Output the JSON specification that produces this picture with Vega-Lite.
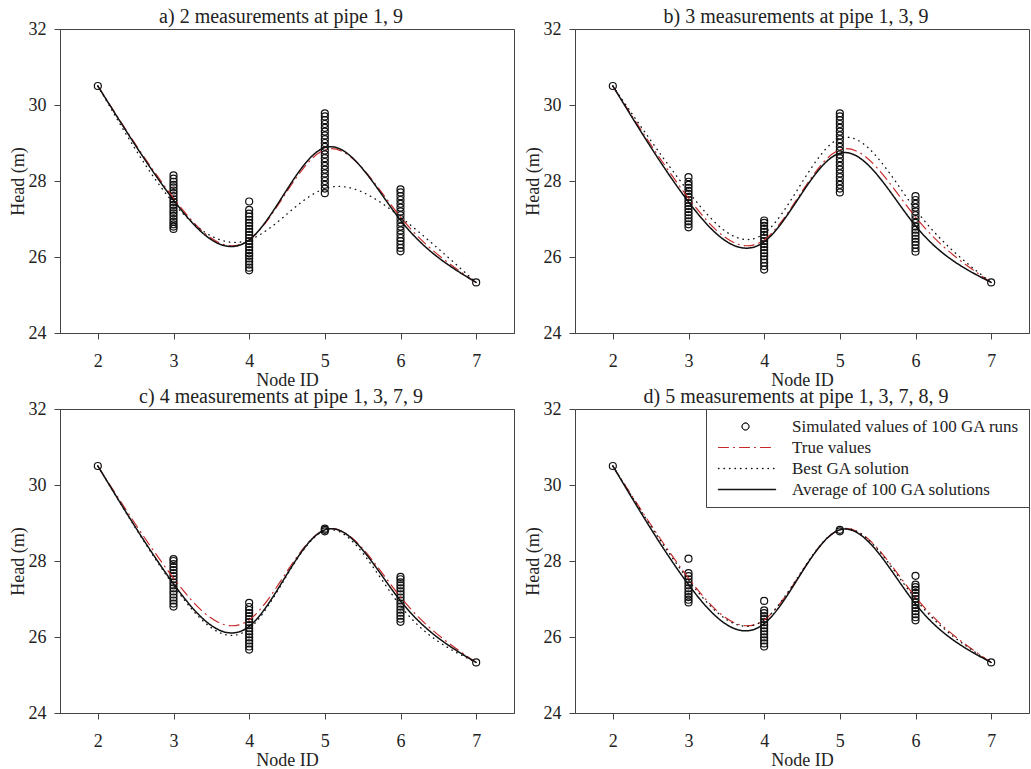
{
  "$schema": "https://vega.github.io/schema/vega-lite/v6.json",
  "padding": {"left": 8, "top": 6, "right": 0, "bottom": 0},
  "background": "white",
  "config": {
    "font": "Liberation Serif",
    "view": {"stroke": "#444", "strokeWidth": 1},
    "axis": {"grid": false, "labelFontSize": 18, "titleFontSize": 18, "titleFontWeight": "normal", "labelColor": "#222", "titleColor": "#222", "tickSize": 6, "tickColor": "#444", "domainColor": "#444"},
    "axisX": {"labelPadding": 13, "titlePadding": 1},
    "axisY": {"labelPadding": 8, "titlePadding": 1},
    "title": {"fontSize": 20, "fontWeight": "normal", "color": "#222", "offset": -7, "dx": -6},
    "legend": {"orient": "top-right", "offset": 0, "padding": 9, "strokeColor": "#444", "fillColor": "white", "labelFontSize": 17, "labelColor": "#222", "labelOffset": 60, "rowPadding": 3, "symbolSize": 100, "symbolStrokeWidth": 1.5, "labelLimit": 400, "cornerRadius": 0}
  },
  "datasets": {
    "pts": [
      {"p":"a","n":2,"h":30.5},{"p":"a","n":7,"h":25.33},
      {"p":"a","n":3,"h":26.74},{"p":"a","n":3,"h":26.8},{"p":"a","n":3,"h":26.86},{"p":"a","n":3,"h":26.93},{"p":"a","n":3,"h":27.0},{"p":"a","n":3,"h":27.08},{"p":"a","n":3,"h":27.15},{"p":"a","n":3,"h":27.22},{"p":"a","n":3,"h":27.3},{"p":"a","n":3,"h":27.37},{"p":"a","n":3,"h":27.45},{"p":"a","n":3,"h":27.52},{"p":"a","n":3,"h":27.6},{"p":"a","n":3,"h":27.68},{"p":"a","n":3,"h":27.75},{"p":"a","n":3,"h":27.83},{"p":"a","n":3,"h":27.9},{"p":"a","n":3,"h":27.98},{"p":"a","n":3,"h":28.06},{"p":"a","n":3,"h":28.15},
      {"p":"a","n":4,"h":25.65},{"p":"a","n":4,"h":25.72},{"p":"a","n":4,"h":25.8},{"p":"a","n":4,"h":25.88},{"p":"a","n":4,"h":25.96},{"p":"a","n":4,"h":26.03},{"p":"a","n":4,"h":26.1},{"p":"a","n":4,"h":26.18},{"p":"a","n":4,"h":26.26},{"p":"a","n":4,"h":26.34},{"p":"a","n":4,"h":26.42},{"p":"a","n":4,"h":26.5},{"p":"a","n":4,"h":26.58},{"p":"a","n":4,"h":26.66},{"p":"a","n":4,"h":26.74},{"p":"a","n":4,"h":26.82},{"p":"a","n":4,"h":26.9},{"p":"a","n":4,"h":26.98},{"p":"a","n":4,"h":27.06},{"p":"a","n":4,"h":27.14},{"p":"a","n":4,"h":27.24},{"p":"a","n":4,"h":27.46},
      {"p":"a","n":5,"h":27.68},{"p":"a","n":5,"h":27.8},{"p":"a","n":5,"h":27.9},{"p":"a","n":5,"h":28.0},{"p":"a","n":5,"h":28.1},{"p":"a","n":5,"h":28.2},{"p":"a","n":5,"h":28.3},{"p":"a","n":5,"h":28.4},{"p":"a","n":5,"h":28.5},{"p":"a","n":5,"h":28.6},{"p":"a","n":5,"h":28.7},{"p":"a","n":5,"h":28.8},{"p":"a","n":5,"h":28.9},{"p":"a","n":5,"h":29.0},{"p":"a","n":5,"h":29.1},{"p":"a","n":5,"h":29.2},{"p":"a","n":5,"h":29.3},{"p":"a","n":5,"h":29.4},{"p":"a","n":5,"h":29.5},{"p":"a","n":5,"h":29.6},{"p":"a","n":5,"h":29.7},{"p":"a","n":5,"h":29.78},
      {"p":"a","n":6,"h":26.15},{"p":"a","n":6,"h":26.24},{"p":"a","n":6,"h":26.33},{"p":"a","n":6,"h":26.42},{"p":"a","n":6,"h":26.5},{"p":"a","n":6,"h":26.6},{"p":"a","n":6,"h":26.7},{"p":"a","n":6,"h":26.8},{"p":"a","n":6,"h":26.9},{"p":"a","n":6,"h":27.0},{"p":"a","n":6,"h":27.1},{"p":"a","n":6,"h":27.2},{"p":"a","n":6,"h":27.3},{"p":"a","n":6,"h":27.4},{"p":"a","n":6,"h":27.5},{"p":"a","n":6,"h":27.6},{"p":"a","n":6,"h":27.7},{"p":"a","n":6,"h":27.78},
      {"p":"b","n":2,"h":30.5},{"p":"b","n":7,"h":25.33},
      {"p":"b","n":3,"h":26.78},{"p":"b","n":3,"h":26.86},{"p":"b","n":3,"h":26.94},{"p":"b","n":3,"h":27.02},{"p":"b","n":3,"h":27.1},{"p":"b","n":3,"h":27.18},{"p":"b","n":3,"h":27.26},{"p":"b","n":3,"h":27.34},{"p":"b","n":3,"h":27.42},{"p":"b","n":3,"h":27.5},{"p":"b","n":3,"h":27.58},{"p":"b","n":3,"h":27.66},{"p":"b","n":3,"h":27.74},{"p":"b","n":3,"h":27.82},{"p":"b","n":3,"h":27.9},{"p":"b","n":3,"h":27.98},{"p":"b","n":3,"h":28.1},
      {"p":"b","n":4,"h":25.67},{"p":"b","n":4,"h":25.76},{"p":"b","n":4,"h":25.85},{"p":"b","n":4,"h":25.94},{"p":"b","n":4,"h":26.02},{"p":"b","n":4,"h":26.1},{"p":"b","n":4,"h":26.18},{"p":"b","n":4,"h":26.26},{"p":"b","n":4,"h":26.34},{"p":"b","n":4,"h":26.42},{"p":"b","n":4,"h":26.5},{"p":"b","n":4,"h":26.58},{"p":"b","n":4,"h":26.66},{"p":"b","n":4,"h":26.74},{"p":"b","n":4,"h":26.82},{"p":"b","n":4,"h":26.9},{"p":"b","n":4,"h":26.96},
      {"p":"b","n":5,"h":27.7},{"p":"b","n":5,"h":27.8},{"p":"b","n":5,"h":27.9},{"p":"b","n":5,"h":28.0},{"p":"b","n":5,"h":28.1},{"p":"b","n":5,"h":28.2},{"p":"b","n":5,"h":28.3},{"p":"b","n":5,"h":28.4},{"p":"b","n":5,"h":28.5},{"p":"b","n":5,"h":28.6},{"p":"b","n":5,"h":28.7},{"p":"b","n":5,"h":28.8},{"p":"b","n":5,"h":28.9},{"p":"b","n":5,"h":29.0},{"p":"b","n":5,"h":29.1},{"p":"b","n":5,"h":29.2},{"p":"b","n":5,"h":29.3},{"p":"b","n":5,"h":29.4},{"p":"b","n":5,"h":29.5},{"p":"b","n":5,"h":29.6},{"p":"b","n":5,"h":29.7},{"p":"b","n":5,"h":29.78},
      {"p":"b","n":6,"h":26.14},{"p":"b","n":6,"h":26.23},{"p":"b","n":6,"h":26.32},{"p":"b","n":6,"h":26.4},{"p":"b","n":6,"h":26.48},{"p":"b","n":6,"h":26.56},{"p":"b","n":6,"h":26.64},{"p":"b","n":6,"h":26.72},{"p":"b","n":6,"h":26.8},{"p":"b","n":6,"h":26.9},{"p":"b","n":6,"h":27.0},{"p":"b","n":6,"h":27.1},{"p":"b","n":6,"h":27.2},{"p":"b","n":6,"h":27.3},{"p":"b","n":6,"h":27.4},{"p":"b","n":6,"h":27.5},{"p":"b","n":6,"h":27.6},
      {"p":"c","n":2,"h":30.5},{"p":"c","n":7,"h":25.33},
      {"p":"c","n":3,"h":26.8},{"p":"c","n":3,"h":26.88},{"p":"c","n":3,"h":26.96},{"p":"c","n":3,"h":27.04},{"p":"c","n":3,"h":27.12},{"p":"c","n":3,"h":27.2},{"p":"c","n":3,"h":27.28},{"p":"c","n":3,"h":27.36},{"p":"c","n":3,"h":27.44},{"p":"c","n":3,"h":27.52},{"p":"c","n":3,"h":27.6},{"p":"c","n":3,"h":27.68},{"p":"c","n":3,"h":27.76},{"p":"c","n":3,"h":27.84},{"p":"c","n":3,"h":27.92},{"p":"c","n":3,"h":28.0},{"p":"c","n":3,"h":28.05},
      {"p":"c","n":4,"h":25.67},{"p":"c","n":4,"h":25.75},{"p":"c","n":4,"h":25.83},{"p":"c","n":4,"h":25.91},{"p":"c","n":4,"h":25.99},{"p":"c","n":4,"h":26.07},{"p":"c","n":4,"h":26.15},{"p":"c","n":4,"h":26.23},{"p":"c","n":4,"h":26.31},{"p":"c","n":4,"h":26.39},{"p":"c","n":4,"h":26.47},{"p":"c","n":4,"h":26.55},{"p":"c","n":4,"h":26.63},{"p":"c","n":4,"h":26.71},{"p":"c","n":4,"h":26.79},{"p":"c","n":4,"h":26.9},
      {"p":"c","n":5,"h":28.78},{"p":"c","n":5,"h":28.82},{"p":"c","n":5,"h":28.85},
      {"p":"c","n":6,"h":26.4},{"p":"c","n":6,"h":26.48},{"p":"c","n":6,"h":26.56},{"p":"c","n":6,"h":26.64},{"p":"c","n":6,"h":26.72},{"p":"c","n":6,"h":26.8},{"p":"c","n":6,"h":26.88},{"p":"c","n":6,"h":26.96},{"p":"c","n":6,"h":27.04},{"p":"c","n":6,"h":27.12},{"p":"c","n":6,"h":27.2},{"p":"c","n":6,"h":27.28},{"p":"c","n":6,"h":27.36},{"p":"c","n":6,"h":27.44},{"p":"c","n":6,"h":27.52},{"p":"c","n":6,"h":27.58},
      {"p":"d","n":2,"h":30.5},{"p":"d","n":7,"h":25.33},
      {"p":"d","n":3,"h":26.91},{"p":"d","n":3,"h":26.98},{"p":"d","n":3,"h":27.05},{"p":"d","n":3,"h":27.12},{"p":"d","n":3,"h":27.2},{"p":"d","n":3,"h":27.28},{"p":"d","n":3,"h":27.36},{"p":"d","n":3,"h":27.44},{"p":"d","n":3,"h":27.52},{"p":"d","n":3,"h":27.6},{"p":"d","n":3,"h":27.68},{"p":"d","n":3,"h":28.06},
      {"p":"d","n":4,"h":25.75},{"p":"d","n":4,"h":25.83},{"p":"d","n":4,"h":25.91},{"p":"d","n":4,"h":25.99},{"p":"d","n":4,"h":26.07},{"p":"d","n":4,"h":26.15},{"p":"d","n":4,"h":26.23},{"p":"d","n":4,"h":26.31},{"p":"d","n":4,"h":26.39},{"p":"d","n":4,"h":26.47},{"p":"d","n":4,"h":26.55},{"p":"d","n":4,"h":26.63},{"p":"d","n":4,"h":26.7},{"p":"d","n":4,"h":26.95},
      {"p":"d","n":5,"h":28.78},{"p":"d","n":5,"h":28.82},
      {"p":"d","n":6,"h":26.44},{"p":"d","n":6,"h":26.52},{"p":"d","n":6,"h":26.6},{"p":"d","n":6,"h":26.68},{"p":"d","n":6,"h":26.76},{"p":"d","n":6,"h":26.84},{"p":"d","n":6,"h":26.92},{"p":"d","n":6,"h":27.0},{"p":"d","n":6,"h":27.08},{"p":"d","n":6,"h":27.16},{"p":"d","n":6,"h":27.24},{"p":"d","n":6,"h":27.31},{"p":"d","n":6,"h":27.38},{"p":"d","n":6,"h":27.61}
    ],
    "lines": [
      {"p":"a","s":"True values","n":2,"h":30.5},{"p":"a","s":"True values","n":3,"h":27.55},{"p":"a","s":"True values","n":4,"h":26.45},{"p":"a","s":"True values","n":5,"h":28.82},{"p":"a","s":"True values","n":6,"h":27.05},{"p":"a","s":"True values","n":7,"h":25.33},
      {"p":"a","s":"Best GA solution","n":2,"h":30.5},{"p":"a","s":"Best GA solution","n":3,"h":27.42},{"p":"a","s":"Best GA solution","n":4,"h":26.45},{"p":"a","s":"Best GA solution","n":5,"h":27.8},{"p":"a","s":"Best GA solution","n":6,"h":27.05},{"p":"a","s":"Best GA solution","n":7,"h":25.33},
      {"p":"a","s":"Average of 100 GA solutions","n":2,"h":30.5},{"p":"a","s":"Average of 100 GA solutions","n":3,"h":27.5},{"p":"a","s":"Average of 100 GA solutions","n":4,"h":26.45},{"p":"a","s":"Average of 100 GA solutions","n":5,"h":28.88},{"p":"a","s":"Average of 100 GA solutions","n":6,"h":26.97},{"p":"a","s":"Average of 100 GA solutions","n":7,"h":25.33},
      {"p":"b","s":"True values","n":2,"h":30.5},{"p":"b","s":"True values","n":3,"h":27.55},{"p":"b","s":"True values","n":4,"h":26.45},{"p":"b","s":"True values","n":5,"h":28.82},{"p":"b","s":"True values","n":6,"h":27.05},{"p":"b","s":"True values","n":7,"h":25.33},
      {"p":"b","s":"Best GA solution","n":2,"h":30.5},{"p":"b","s":"Best GA solution","n":3,"h":27.72},{"p":"b","s":"Best GA solution","n":4,"h":26.62},{"p":"b","s":"Best GA solution","n":5,"h":29.12},{"p":"b","s":"Best GA solution","n":6,"h":27.25},{"p":"b","s":"Best GA solution","n":7,"h":25.33},
      {"p":"b","s":"Average of 100 GA solutions","n":2,"h":30.5},{"p":"b","s":"Average of 100 GA solutions","n":3,"h":27.45},{"p":"b","s":"Average of 100 GA solutions","n":4,"h":26.4},{"p":"b","s":"Average of 100 GA solutions","n":5,"h":28.73},{"p":"b","s":"Average of 100 GA solutions","n":6,"h":26.82},{"p":"b","s":"Average of 100 GA solutions","n":7,"h":25.33},
      {"p":"c","s":"True values","n":2,"h":30.5},{"p":"c","s":"True values","n":3,"h":27.55},{"p":"c","s":"True values","n":4,"h":26.45},{"p":"c","s":"True values","n":5,"h":28.82},{"p":"c","s":"True values","n":6,"h":27.05},{"p":"c","s":"True values","n":7,"h":25.33},
      {"p":"c","s":"Best GA solution","n":2,"h":30.5},{"p":"c","s":"Best GA solution","n":3,"h":27.36},{"p":"c","s":"Best GA solution","n":4,"h":26.22},{"p":"c","s":"Best GA solution","n":5,"h":28.8},{"p":"c","s":"Best GA solution","n":6,"h":26.82},{"p":"c","s":"Best GA solution","n":7,"h":25.33},
      {"p":"c","s":"Average of 100 GA solutions","n":2,"h":30.5},{"p":"c","s":"Average of 100 GA solutions","n":3,"h":27.4},{"p":"c","s":"Average of 100 GA solutions","n":4,"h":26.28},{"p":"c","s":"Average of 100 GA solutions","n":5,"h":28.82},{"p":"c","s":"Average of 100 GA solutions","n":6,"h":26.95},{"p":"c","s":"Average of 100 GA solutions","n":7,"h":25.33},
      {"p":"d","s":"True values","n":2,"h":30.5},{"p":"d","s":"True values","n":3,"h":27.55},{"p":"d","s":"True values","n":4,"h":26.45},{"p":"d","s":"True values","n":5,"h":28.82},{"p":"d","s":"True values","n":6,"h":27.05},{"p":"d","s":"True values","n":7,"h":25.33},
      {"p":"d","s":"Best GA solution","n":2,"h":30.5},{"p":"d","s":"Best GA solution","n":3,"h":27.5},{"p":"d","s":"Best GA solution","n":4,"h":26.45},{"p":"d","s":"Best GA solution","n":5,"h":28.83},{"p":"d","s":"Best GA solution","n":6,"h":27.0},{"p":"d","s":"Best GA solution","n":7,"h":25.33},
      {"p":"d","s":"Average of 100 GA solutions","n":2,"h":30.5},{"p":"d","s":"Average of 100 GA solutions","n":3,"h":27.38},{"p":"d","s":"Average of 100 GA solutions","n":4,"h":26.35},{"p":"d","s":"Average of 100 GA solutions","n":5,"h":28.82},{"p":"d","s":"Average of 100 GA solutions","n":6,"h":26.87},{"p":"d","s":"Average of 100 GA solutions","n":7,"h":25.33}
    ]
  },
  "columns": 2,
  "spacing": {"row": 76, "column": 61},
  "bounds": "flush",
  "resolve": {"scale": {"color": "independent", "strokeDash": "independent", "strokeWidth": "independent"}, "legend": {"color": "independent", "strokeDash": "independent", "strokeWidth": "independent"}},
  "concat": [
    {
      "title": "a) 2 measurements at pipe 1, 9",
      "width": 454, "height": 304,
      "encoding": {
        "x": {"field": "n", "type": "quantitative", "title": "Node ID", "scale": {"domain": [1.5, 7.5], "nice": false, "zero": false}, "axis": {"values": [2,3,4,5,6,7], "format": "d"}},
        "y": {"field": "h", "type": "quantitative", "title": "Head (m)", "scale": {"domain": [24, 32], "nice": false, "zero": false}, "axis": {"values": [24,26,28,30,32], "format": "d"}}
      },
      "layer": [
        {"data": {"name": "pts"}, "transform": [{"filter": "datum.p === 'a'"}], "mark": {"type": "point", "shape": "circle", "filled": false, "size": 49, "strokeWidth": 1.2, "color": "#111", "opacity": 1}},
        {"data": {"name": "lines"}, "transform": [{"filter": "datum.p === 'a'"}], "mark": {"type": "line", "interpolate": "natural", "strokeCap": "round"},
          "encoding": {
            "color": {"field": "s", "type": "nominal", "scale": {"domain": ["Simulated values of 100 GA runs", "True values", "Best GA solution", "Average of 100 GA solutions"], "range": ["#111", "#c62828", "#111", "#111"]}, "legend": null},
            "strokeDash": {"field": "s", "type": "nominal", "scale": {"domain": ["Simulated values of 100 GA runs", "True values", "Best GA solution", "Average of 100 GA solutions"], "range": [[1,0], [10,5,1,5], [0.5,5], [1,0]]}, "legend": null},
            "strokeWidth": {"field": "s", "type": "nominal", "scale": {"domain": ["Simulated values of 100 GA runs", "True values", "Best GA solution", "Average of 100 GA solutions"], "range": [1, 1.5, 3, 1.6]}, "legend": null},
            "order": {"field": "n", "type": "quantitative"}
          }}
      ]
    },
    {
      "title": "b) 3 measurements at pipe 1, 3, 9",
      "width": 454, "height": 304,
      "encoding": {
        "x": {"field": "n", "type": "quantitative", "title": "Node ID", "scale": {"domain": [1.5, 7.5], "nice": false, "zero": false}, "axis": {"values": [2,3,4,5,6,7], "format": "d"}},
        "y": {"field": "h", "type": "quantitative", "title": "Head (m)", "scale": {"domain": [24, 32], "nice": false, "zero": false}, "axis": {"values": [24,26,28,30,32], "format": "d"}}
      },
      "layer": [
        {"data": {"name": "pts"}, "transform": [{"filter": "datum.p === 'b'"}], "mark": {"type": "point", "shape": "circle", "filled": false, "size": 49, "strokeWidth": 1.2, "color": "#111", "opacity": 1}},
        {"data": {"name": "lines"}, "transform": [{"filter": "datum.p === 'b'"}], "mark": {"type": "line", "interpolate": "natural", "strokeCap": "round"},
          "encoding": {
            "color": {"field": "s", "type": "nominal", "scale": {"domain": ["Simulated values of 100 GA runs", "True values", "Best GA solution", "Average of 100 GA solutions"], "range": ["#111", "#c62828", "#111", "#111"]}, "legend": null},
            "strokeDash": {"field": "s", "type": "nominal", "scale": {"domain": ["Simulated values of 100 GA runs", "True values", "Best GA solution", "Average of 100 GA solutions"], "range": [[1,0], [10,5,1,5], [0.5,5], [1,0]]}, "legend": null},
            "strokeWidth": {"field": "s", "type": "nominal", "scale": {"domain": ["Simulated values of 100 GA runs", "True values", "Best GA solution", "Average of 100 GA solutions"], "range": [1, 1.5, 3, 1.6]}, "legend": null},
            "order": {"field": "n", "type": "quantitative"}
          }}
      ]
    },
    {
      "title": "c) 4 measurements at pipe 1, 3, 7, 9",
      "width": 454, "height": 304,
      "encoding": {
        "x": {"field": "n", "type": "quantitative", "title": "Node ID", "scale": {"domain": [1.5, 7.5], "nice": false, "zero": false}, "axis": {"values": [2,3,4,5,6,7], "format": "d"}},
        "y": {"field": "h", "type": "quantitative", "title": "Head (m)", "scale": {"domain": [24, 32], "nice": false, "zero": false}, "axis": {"values": [24,26,28,30,32], "format": "d"}}
      },
      "layer": [
        {"data": {"name": "pts"}, "transform": [{"filter": "datum.p === 'c'"}], "mark": {"type": "point", "shape": "circle", "filled": false, "size": 49, "strokeWidth": 1.2, "color": "#111", "opacity": 1}},
        {"data": {"name": "lines"}, "transform": [{"filter": "datum.p === 'c'"}], "mark": {"type": "line", "interpolate": "natural", "strokeCap": "round"},
          "encoding": {
            "color": {"field": "s", "type": "nominal", "scale": {"domain": ["Simulated values of 100 GA runs", "True values", "Best GA solution", "Average of 100 GA solutions"], "range": ["#111", "#c62828", "#111", "#111"]}, "legend": null},
            "strokeDash": {"field": "s", "type": "nominal", "scale": {"domain": ["Simulated values of 100 GA runs", "True values", "Best GA solution", "Average of 100 GA solutions"], "range": [[1,0], [10,5,1,5], [0.5,5], [1,0]]}, "legend": null},
            "strokeWidth": {"field": "s", "type": "nominal", "scale": {"domain": ["Simulated values of 100 GA runs", "True values", "Best GA solution", "Average of 100 GA solutions"], "range": [1, 1.5, 3, 1.6]}, "legend": null},
            "order": {"field": "n", "type": "quantitative"}
          }}
      ]
    },
    {
      "title": "d) 5 measurements at pipe 1, 3, 7, 8, 9",
      "width": 454, "height": 304,
      "encoding": {
        "x": {"field": "n", "type": "quantitative", "title": "Node ID", "scale": {"domain": [1.5, 7.5], "nice": false, "zero": false}, "axis": {"values": [2,3,4,5,6,7], "format": "d"}},
        "y": {"field": "h", "type": "quantitative", "title": "Head (m)", "scale": {"domain": [24, 32], "nice": false, "zero": false}, "axis": {"values": [24,26,28,30,32], "format": "d"}}
      },
      "layer": [
        {"data": {"name": "pts"}, "transform": [{"filter": "datum.p === 'd'"}], "mark": {"type": "point", "shape": "circle", "filled": false, "size": 49, "strokeWidth": 1.2, "opacity": 1},
          "encoding": {
            "color": {"datum": "Simulated values of 100 GA runs", "type": "nominal", "scale": {"domain": ["Simulated values of 100 GA runs", "True values", "Best GA solution", "Average of 100 GA solutions"], "range": ["#111", "#c62828", "#111", "#111"]},
              "legend": {"title": null, "encode": {"symbols": {"update": {
                "shape": {"signal": "datum.value === 'Simulated values of 100 GA runs' ? 'M5.1,0A0.7,0.7,0,1,1,3.7,0A0.7,0.7,0,1,1,5.1,0Z' : 'M-1,0L10.4,0'"},
                "size": {"value": 100},
                "fill": {"value": "transparent"},
                "stroke": {"signal": "datum.value === 'True values' ? '#c62828' : '#111'"},
                "strokeDash": {"signal": "datum.value === 'True values' ? [10,5,1,5] : (datum.value === 'Best GA solution' ? [0.5,5] : [1,0])"},
                "strokeWidth": {"signal": "datum.value === 'Best GA solution' ? 3 : (datum.value === 'Simulated values of 100 GA runs' ? 1.2 : 1.6)"},
                "strokeCap": {"value": "round"},
                "opacity": {"value": 1}
              }}}}}
          }},
        {"data": {"name": "lines"}, "transform": [{"filter": "datum.p === 'd'"}], "mark": {"type": "line", "interpolate": "natural", "strokeCap": "round"},
          "encoding": {
            "color": {"field": "s", "type": "nominal", "scale": {"domain": ["Simulated values of 100 GA runs", "True values", "Best GA solution", "Average of 100 GA solutions"], "range": ["#111", "#c62828", "#111", "#111"]},
              "legend": {"title": null, "encode": {"symbols": {"update": {
                "shape": {"signal": "datum.value === 'Simulated values of 100 GA runs' ? 'M5.1,0A0.7,0.7,0,1,1,3.7,0A0.7,0.7,0,1,1,5.1,0Z' : 'M-1,0L10.4,0'"},
                "size": {"value": 100},
                "fill": {"value": "transparent"},
                "stroke": {"signal": "datum.value === 'True values' ? '#c62828' : '#111'"},
                "strokeDash": {"signal": "datum.value === 'True values' ? [10,5,1,5] : (datum.value === 'Best GA solution' ? [0.5,5] : [1,0])"},
                "strokeWidth": {"signal": "datum.value === 'Best GA solution' ? 3 : (datum.value === 'Simulated values of 100 GA runs' ? 1.2 : 1.6)"},
                "strokeCap": {"value": "round"},
                "opacity": {"value": 1}
              }}}}},
            "strokeDash": {"field": "s", "type": "nominal", "scale": {"domain": ["Simulated values of 100 GA runs", "True values", "Best GA solution", "Average of 100 GA solutions"], "range": [[1,0], [10,5,1,5], [0.5,5], [1,0]]}, "legend": null},
            "strokeWidth": {"field": "s", "type": "nominal", "scale": {"domain": ["Simulated values of 100 GA runs", "True values", "Best GA solution", "Average of 100 GA solutions"], "range": [1, 1.5, 3, 1.6]}, "legend": null},
            "order": {"field": "n", "type": "quantitative"}
          }}
      ]
    }
  ]
}
